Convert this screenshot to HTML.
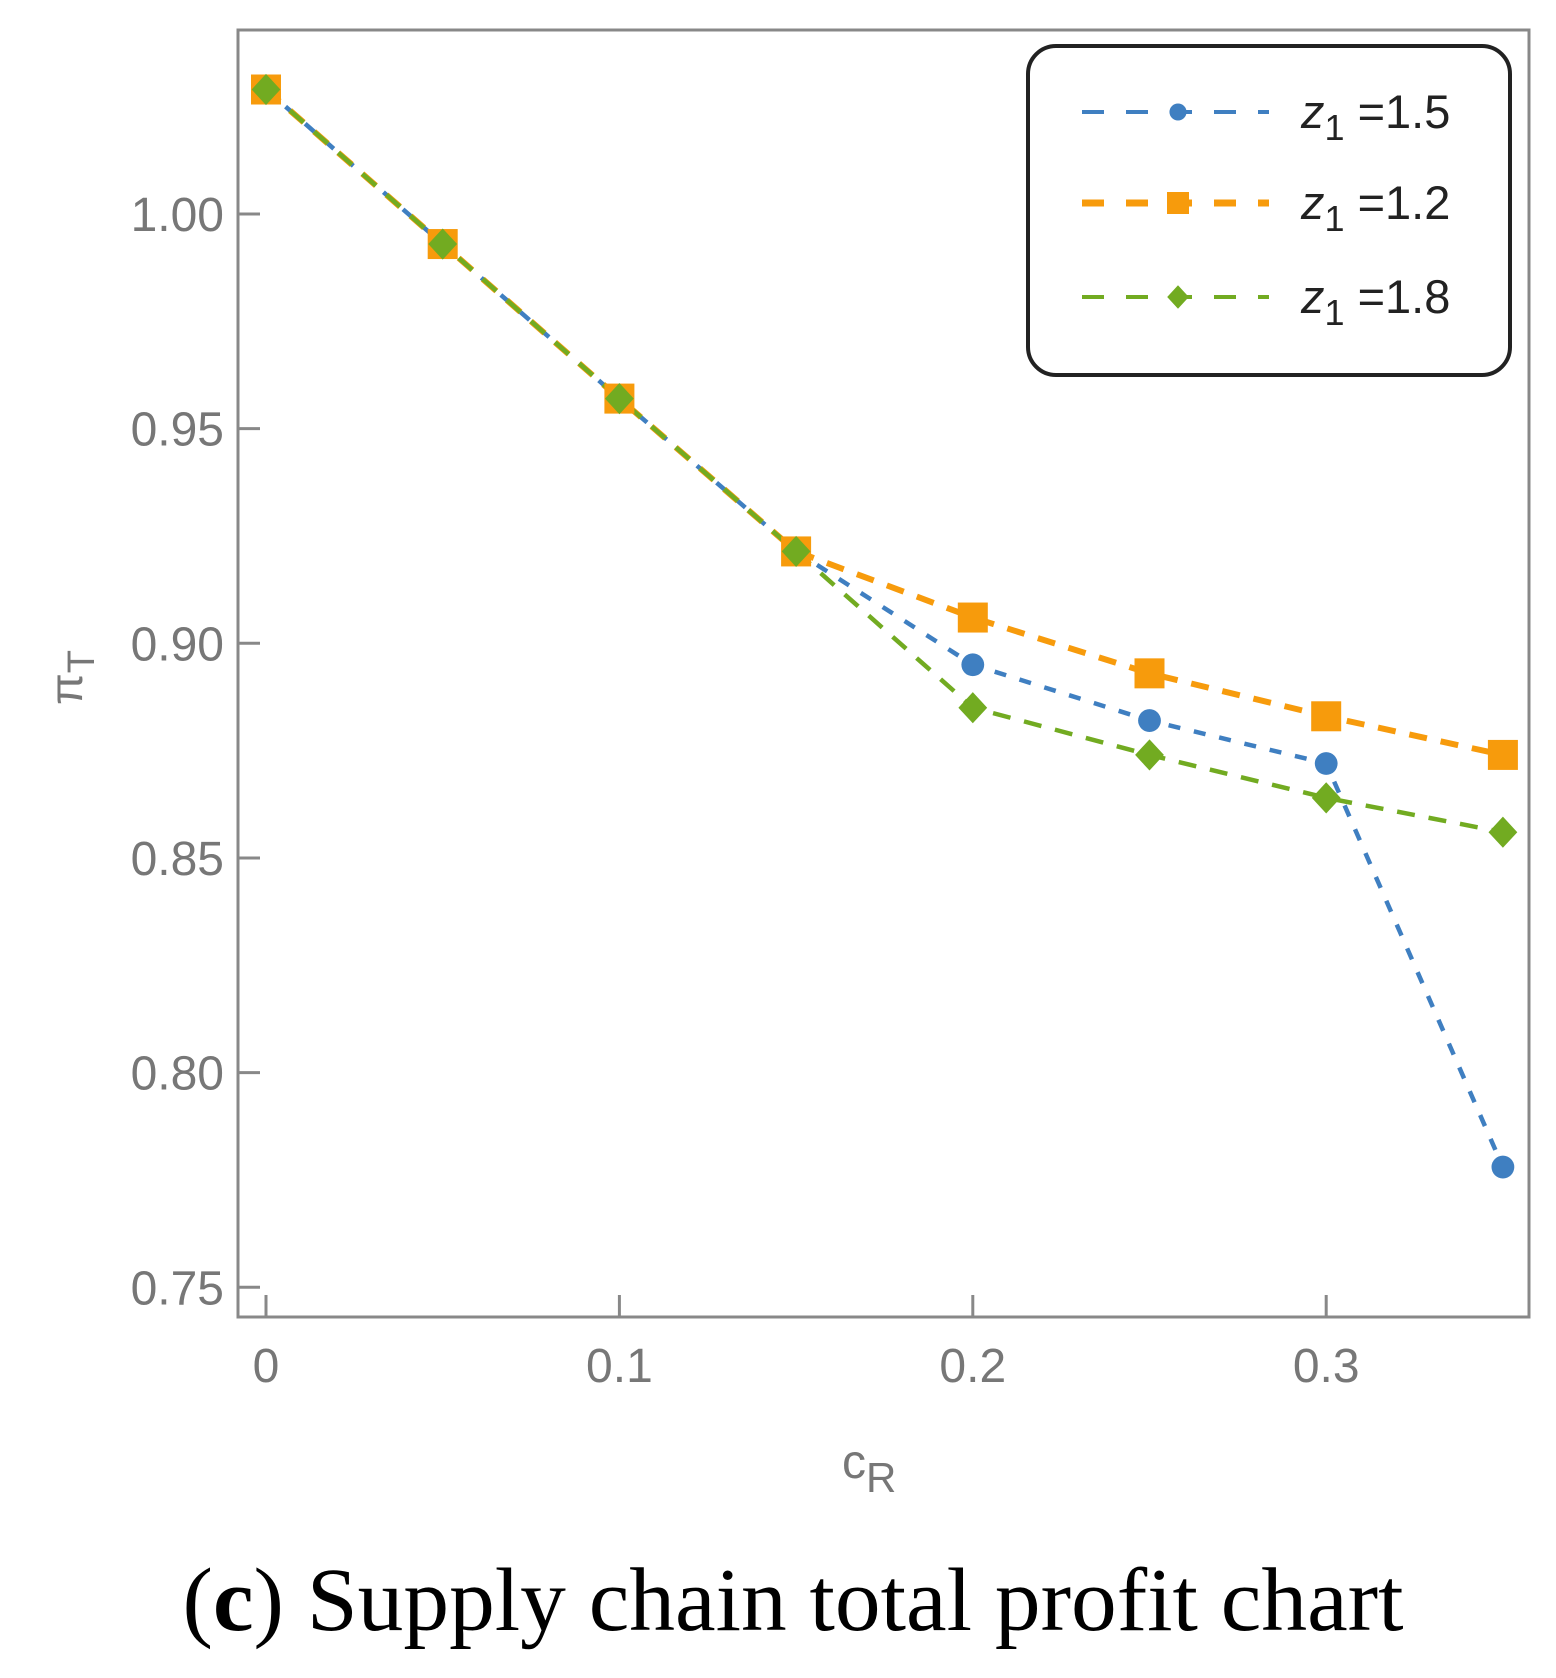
<!DOCTYPE html>
<html><head><meta charset="utf-8"><style>
body{margin:0;background:#fff;width:1556px;height:1678px;overflow:hidden}
svg{display:block}
</style></head><body>
<svg id="chart" width="1556" height="1678" viewBox="0 0 1556 1678" xmlns="http://www.w3.org/2000/svg">
<rect x="238" y="30" width="1291" height="1287" fill="none" stroke="#888" stroke-width="3"/>
<g id="ticks"></g>
<g id="series"></g>
<text x="842" y="1478" font-family="Liberation Sans, sans-serif" font-size="48" fill="#777">c<tspan font-size="42" dy="14">R</tspan></text>
<text transform="translate(82,705) rotate(-90)" font-family="Liberation Sans, sans-serif" font-size="46" fill="#777">π<tspan font-size="38" dy="12">T</tspan></text>
<g>
<rect x="1028" y="46" width="482" height="329" rx="28" fill="#fff" stroke="#222" stroke-width="4"/>
</g>
<g id="legend-entries"></g>
<text x="793" y="1630" text-anchor="middle" textLength="1221" lengthAdjust="spacingAndGlyphs" font-family="Liberation Serif, serif" font-size="90" fill="#000">(<tspan font-weight="bold">c</tspan>) Supply chain total profit chart</text>
</svg>
<script>
const xValues=[0,0.05,0.1,0.15,0.2,0.25,0.3,0.35];
const seriesZ15=[1.029,0.993,0.957,0.9214,0.895,0.882,0.872,0.778];
const seriesZ12=[1.029,0.993,0.957,0.9214,0.906,0.893,0.883,0.874];
const seriesZ18=[1.029,0.993,0.957,0.9214,0.885,0.874,0.864,0.856];
const yTicks=[0.75,0.80,0.85,0.90,0.95,1.00];
const yTickLabels=["0.75","0.80","0.85","0.90","0.95","1.00"];
const xTicks=[0,0.1,0.2,0.3];
const xTickLabels=["0","0.1","0.2","0.3"];
const seriesNames=["z1=1.5","z1=1.2","z1=1.8"];

const NS="http://www.w3.org/2000/svg";
function xs(v){return 266+v*3534;}
function ys(v){return 214+(1.0-v)*4293;}
function mk(tag,attrs,parent){const e=document.createElementNS(NS,tag);for(const k in attrs)e.setAttribute(k,attrs[k]);parent.appendChild(e);return e;}
const ticks=document.getElementById('ticks');
yTicks.forEach((v,i)=>{
  const l=mk('line',{x1:238,x2:260,y1:ys(v),y2:ys(v),stroke:'#888','stroke-width':3},ticks);
  
  
  const t=mk('text',{x:224,y:ys(v)+17,'text-anchor':'end','font-family':'Liberation Sans, sans-serif','font-size':48,fill:'#777'},ticks);
  t.textContent=yTickLabels[i];
  
  
});
xTicks.forEach((v,i)=>{
  const l=mk('line',{x1:xs(v),x2:xs(v),y1:1317,y2:1295,stroke:'#888','stroke-width':3},ticks);
  
  
  const t=mk('text',{x:xs(v),y:1382,'text-anchor':'middle','font-family':'Liberation Sans, sans-serif','font-size':48,fill:'#777'},ticks);
  t.textContent=xTickLabels[i];
  
  
});
const colors=['#3f7fc1','#f79b0c','#72ab21'];
const widths=[4.5,6,4.5];
const dashes=['12 14','18 14','18 14'];
const shapes=['circle','square','diamond'];
function marker(shape,x,y,c,parent,s){
  if(shape==='square')return mk('rect',{x:x-s,y:y-s,width:2*s,height:2*s,fill:c},parent);
  if(shape==='diamond')return mk('polygon',{points:`${x},${y-s*1.3} ${x+s*1.2},${y} ${x},${y+s*1.3} ${x-s*1.2},${y}`,fill:c},parent);
  return mk('circle',{cx:x,cy:y,r:s*0.95,fill:c},parent);
}
const sg=document.getElementById('series');
[seriesZ15,seriesZ12,seriesZ18].forEach((data,si)=>{
  const pts=data.map((v,i)=>xs(xValues[i])+','+ys(v)).join(' ');
  const pl=mk('polyline',{points:pts,fill:'none',stroke:colors[si],'stroke-width':widths[si],'stroke-dasharray':dashes[si]},sg);
  
  
});
[seriesZ15,seriesZ12,seriesZ18].forEach((data,si)=>{
  data.forEach((v,i)=>{
    const m=marker(shapes[si],xs(xValues[i]),ys(v),colors[si],sg,si===1?15:12);
    
    
  });
});
const lg=document.getElementById('legend-entries');
const ly=[112,203,297];
seriesNames.forEach((n,i)=>{
  const l=mk('line',{x1:1082,x2:1269,y1:ly[i],y2:ly[i],stroke:colors[i],'stroke-width':i===1?7:4,'stroke-dasharray':'22 22'},lg);
  
  
  const m=marker(shapes[i],1178,ly[i],colors[i],lg,i===1?11:9);
  
  
  const t=mk('text',{x:1301,y:ly[i]+16,'font-family':'Liberation Sans, sans-serif','font-size':47,fill:'#222'},lg);
  t.innerHTML='<tspan font-style="italic">z</tspan><tspan font-size="36" dy="12">1</tspan><tspan dy="-12"> =</tspan>'+n.split('=')[1];
  
  
});
</script>
</body></html>
